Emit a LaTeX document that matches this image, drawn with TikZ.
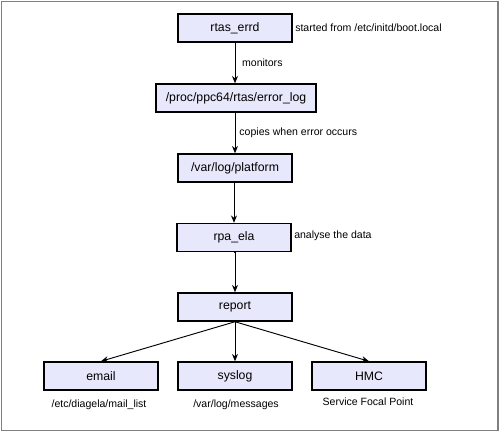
\documentclass[tikz,border=0pt]{standalone}
\usepackage{fontspec}
\setmainfont{Liberation Sans}
\usetikzlibrary{arrows.meta}
\definecolor{boxfill}{HTML}{E8E8FC}
\definecolor{framegray}{HTML}{808080}
\tikzset{
  stepbox/.style={draw=black, line width=1.1pt, fill=boxfill, minimum width=114*0.75pt, minimum height=28*0.75pt, inner sep=0pt, font=\fontsize{9.2pt}{11pt}\selectfont},
  lbl/.style={font=\fontsize{7.9pt}{9.5pt}\selectfont, inner sep=0pt},
  conn/.style={draw=black, line width=0.7pt, -{Stealth[length=5.5pt,width=4.5pt]}}
}
\begin{document}
\begin{tikzpicture}[x=0.75pt,y=-0.75pt]
\useasboundingbox (0,0) rectangle (500,433);
\draw[framegray, line width=1.3pt] (1.5,1.5) rectangle (498,430.5);
\node[stepbox] (rtas) at (235,28) {rtas\_errd};
\node[stepbox, minimum width=160*0.75pt] (errlog) at (236,98) {/proc/ppc64/rtas/error\_log};
\node[stepbox] (plat) at (235,168) {/var/log/platform};
\node[stepbox] (rpa) at (234,237.5) {rpa\_ela};
\node[stepbox] (report) at (235,307) {report};
\node[stepbox] (email) at (101,376) {email};
\node[stepbox] (syslog) at (235,376) {syslog};
\node[stepbox] (hmc) at (369,376) {HMC};
\draw[conn] (rtas.south) -- (rtas.south |- errlog.north) node[lbl, midway, right=5pt] (l1) {monitors};
\draw[conn] (errlog.south -| plat.north) -- (plat.north) node[lbl, midway, right=3pt] (l2) {copies when error occurs};
\draw[conn] (plat.south -| rpa.north) -- (rpa.north);
\draw[conn] (rpa.south) -- (rpa.south -| report.north) -- (report.north);
\draw[conn] (report.south) -- (email.north);
\draw[conn] (report.south) -- (syslog.north);
\draw[conn] (report.south) -- (hmc.north);
\node[lbl, anchor=west] (l3) at (295,28) {started from /etc/initd/boot.local};
\node[lbl, anchor=west] (l4) at (294,236) {analyse the data};
\node[lbl, anchor=base] (l5) at (99,407) {/etc/diagela/mail\_list};
\node[lbl, anchor=base] (l6) at (236,407) {/var/log/messages};
\node[lbl, anchor=base] (l7) at (368,405) {Service Focal Point};
\end{tikzpicture}
\end{document}
